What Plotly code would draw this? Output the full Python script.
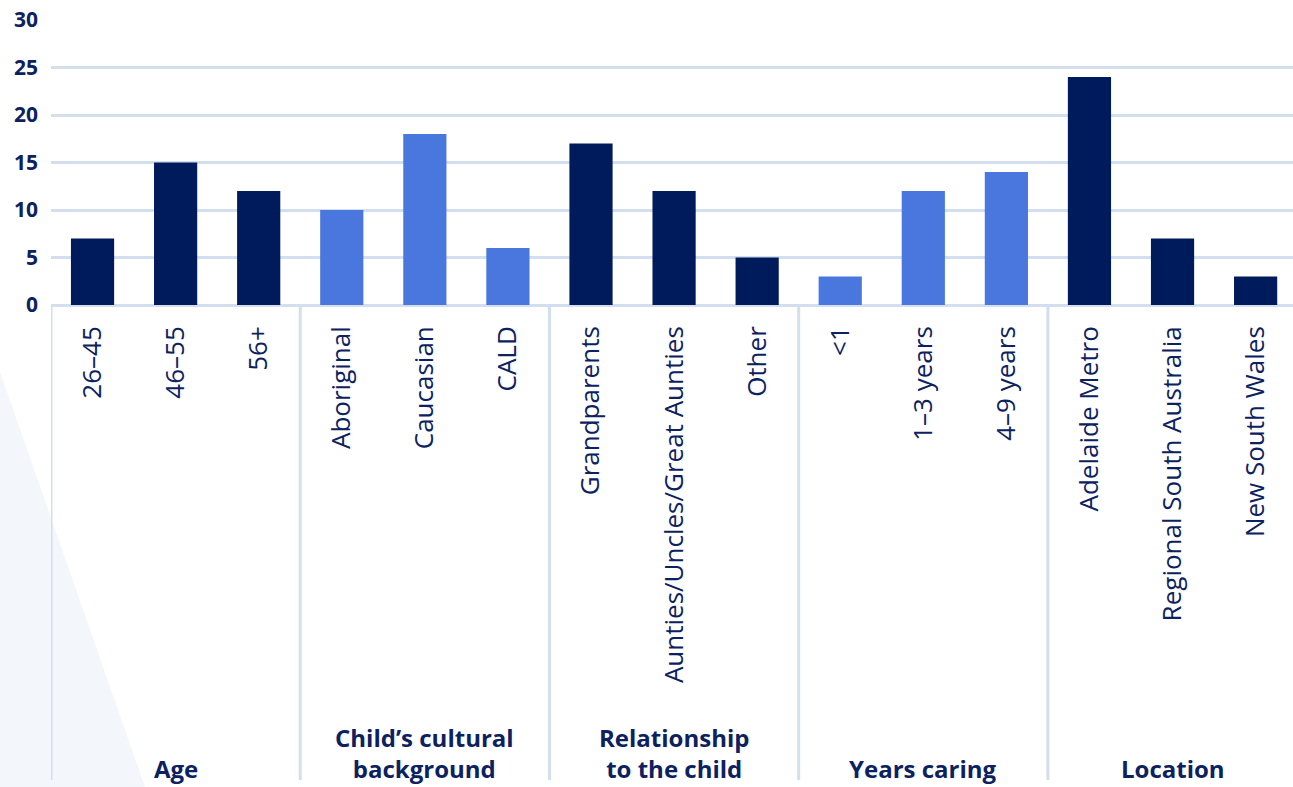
import plotly.graph_objects as go

groups = ["Age", "Child’s cultural<br>background", "Relationship<br>to the child", "Years caring", "Location"]
categories = [
    ["26–45", "46–55", "56+"],
    ["Aboriginal", "Caucasian", "CALD"],
    ["Grandparents", "Aunties/Uncles/Great Aunties", "Other"],
    ["<1", "1–3 years", "4–9 years"],
    ["Adelaide Metro", "Regional South Australia", "New South Wales"],
]
values = [
    [7, 15, 12],
    [10, 18, 6],
    [17, 12, 5],
    [3, 12, 14],
    [24, 7, 3],
]
group_colors = ["#001b5c", "#4a77de", "#001b5c", "#4a77de", "#001b5c"]

TEXT = "#0c2260"
GRID = "#d3deef"
FONT = "Open Sans"

labels, ys, cols, xs = [], [], [], []
i = 0
for g, cats in enumerate(categories):
    for c, v in zip(cats, values[g]):
        labels.append(c)
        ys.append(v)
        cols.append(group_colors[g])
        xs.append(i)
        i += 1

fig = go.Figure(go.Bar(x=xs, y=ys, marker=dict(color=cols, line=dict(width=0)), width=0.52,
                       hoverinfo="skip"))

W, H = 1293, 787
mt, mb, ml = 20, 482, 51
ph = H - mt - mb

shapes = []
# decorative background triangle
shapes.append(dict(type="path", xref="paper", yref="paper", layer="below",
                   path="M {x0} {y0} L {x1} {y1} L {x0} {y1} Z".format(
                       x0=-ml / (W - ml), y0=(H - mb - 372) / ph * 1.0,
                       x1=(145 - ml) / (W - ml), y1=(H - mb - 787) / ph),
                   fillcolor="#f3f6fa", line=dict(width=0)))
# separators
bottom_y = -(780 - (H - mb)) / ph
n = 0
for g, cats in enumerate(categories):
    shapes.append(dict(type="line", xref="x", yref="paper", x0=n - 0.5, x1=n - 0.5,
                       y0=0, y1=bottom_y, line=dict(color=GRID, width=3), layer="below"))
    n += len(cats)

annotations = []
n = 0
for g, cats in enumerate(categories):
    center = n + (len(cats) - 1) / 2
    annotations.append(dict(x=center, y=-(787 - (H - mb)) / ph, xref="x", yref="paper",
                            text="<b>" + groups[g] + "</b>", showarrow=False,
                            xanchor="center", yanchor="bottom",
                            font=dict(family=FONT, size=24, color=TEXT)))
    n += len(cats)

fig.update_layout(
    width=W, height=H,
    margin=dict(l=ml, r=0, t=mt, b=mb),
    paper_bgcolor="white", plot_bgcolor="rgba(0,0,0,0)",
    showlegend=False,
    shapes=shapes, annotations=annotations,
    xaxis=dict(range=[-0.5, 14.45], tickmode="array", tickvals=xs, ticktext=labels,
               tickangle=-90, tickfont=dict(family=FONT, size=26, color=TEXT),
               showgrid=False, zeroline=False, showline=False, ticks="",
               ticklabelstandoff=15, fixedrange=True),
    yaxis=dict(range=[0, 30], tickvals=[0, 5, 10, 15, 20, 25, 30],
               tickfont=dict(family=FONT, size=21, color=TEXT, weight="bold"),
               showgrid=True, gridcolor=GRID, gridwidth=3,
               zeroline=True, zerolinecolor=GRID, zerolinewidth=3,
               showline=False, ticks="", ticklabelstandoff=12, fixedrange=True),
    bargap=0.48,
)

fig.write_html("out.html", config={"displayModeBar": False})
